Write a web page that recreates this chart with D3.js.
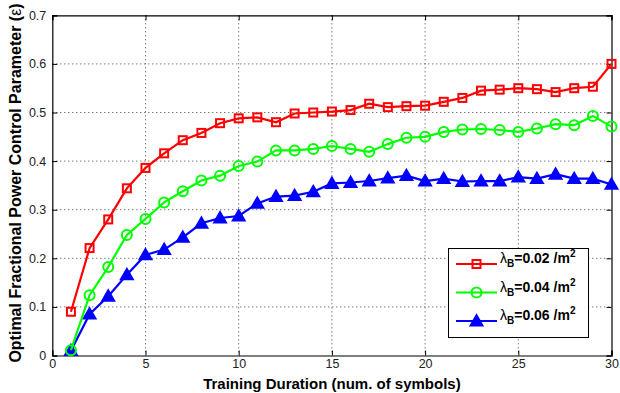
<!DOCTYPE html>
<html><head><meta charset="utf-8">
<script src="https://cdn.jsdelivr.net/npm/d3@7"></script>
<style>body{margin:0;background:#fff}svg{display:block;font-family:"Liberation Sans",Arial,sans-serif}</style>
</head><body><svg id="c" width="620" height="393"></svg>
<script>
const xs = d3.range(1, 31);
const red = [0.090,0.221,0.280,0.344,0.386,0.416,0.443,0.458,0.478,0.488,0.490,0.480,0.498,0.500,0.502,0.505,0.518,0.511,0.513,0.514,0.522,0.530,0.545,0.547,0.550,0.548,0.542,0.550,0.553,0.600];
const green = [0.011,0.124,0.182,0.248,0.281,0.315,0.338,0.360,0.370,0.390,0.399,0.422,0.422,0.425,0.431,0.425,0.419,0.435,0.448,0.450,0.460,0.465,0.466,0.464,0.460,0.467,0.476,0.474,0.493,0.471];
const blue = [0.010,0.085,0.122,0.166,0.207,0.218,0.243,0.272,0.283,0.287,0.313,0.327,0.329,0.337,0.354,0.356,0.359,0.365,0.370,0.359,0.364,0.358,0.359,0.359,0.367,0.364,0.373,0.364,0.364,0.352];
const xTicks = [0,5,10,15,20,25,30];
const yTicks = [0,0.1,0.2,0.3,0.4,0.5,0.6,0.7];
const legendLabels = ["0.02","0.04","0.06"];

const svg = d3.select("#c");
const L=52.3, R=611.5, T=15.3, B=355.5;
const x = d3.scaleLinear().domain([0,30]).range([L,R]);
const y = d3.scaleLinear().domain([0,0.7]).range([B,T]);

const g = svg.append("g");
g.selectAll(".gx").data(xTicks.slice(1,-1)).enter().append("line")
 .attr("x1",d=>x(d)).attr("x2",d=>x(d)).attr("y1",T).attr("y2",B)
 .attr("stroke","#444").attr("stroke-width",1).attr("stroke-dasharray","1,3");
g.selectAll(".gy").data(yTicks.slice(1,-1)).enter().append("line")
 .attr("y1",d=>y(d)).attr("y2",d=>y(d)).attr("x1",L).attr("x2",R)
 .attr("stroke","#444").attr("stroke-width",1).attr("stroke-dasharray","1,3");

const ax = d3.axisBottom(x).tickValues(xTicks).tickSize(-5).tickPadding(4).tickFormat(d3.format("d"));
const ay = d3.axisLeft(y).tickValues(yTicks).tickSize(-5).tickPadding(6).tickFormat(d=>d===0?"0":d3.format(".1f")(d));
const gx = svg.append("g").attr("transform",`translate(0,${B})`).call(ax);
const gy = svg.append("g").attr("transform",`translate(${L},0)`).call(ay);
svg.append("g").attr("transform",`translate(0,${T})`).call(d3.axisTop(x).tickValues(xTicks).tickSize(-5).tickFormat(""));
svg.append("g").attr("transform",`translate(${R},0)`).call(d3.axisRight(y).tickValues(yTicks).tickSize(-5).tickFormat(""));
svg.selectAll(".domain").attr("stroke","#000").attr("stroke-width",1.2);
svg.selectAll(".tick line").attr("stroke","#000");
svg.selectAll(".tick text").attr("font-size",12.5).attr("fill","#222").attr("font-family","Liberation Sans, Arial, sans-serif");
gx.selectAll(".tick text").attr("dy","0.71em");

svg.append("text").attr("x",(L+R)/2).attr("y",389).attr("text-anchor","middle")
 .attr("font-size",15).attr("font-weight","bold").text("Training Duration (num. of symbols)");
const yl = svg.append("text").attr("transform",`translate(21,${183}) rotate(-90)`).attr("text-anchor","middle")
 .attr("font-size",16).attr("font-weight","bold");
yl.append("tspan").text("Optimal Fractional Power Control Parameter (");
yl.append("tspan").attr("font-weight","normal").text("ε");
yl.append("tspan").text(")");

const series = [
 {vals:red, color:"#ff0000", marker:"square"},
 {vals:green, color:"#00ff00", marker:"circle"},
 {vals:blue, color:"#0000ff", marker:"triangle"}
];
const line = d3.line().x((d,i)=>x(xs[i])).y(d=>y(d));
function drawMarker(sel, type, color){
  if(type==="square") sel.append("rect").attr("x",-4).attr("y",-4).attr("width",8).attr("height",8)
     .attr("fill","none").attr("stroke",color).attr("stroke-width",2);
  else if(type==="circle") sel.append("circle").attr("r",5).attr("fill","none").attr("stroke",color).attr("stroke-width",2);
  else sel.append("path").attr("d",d3.symbol(d3.symbolTriangle,70)()).attr("transform","translate(0,1)")
     .attr("fill",color).attr("stroke",color).attr("stroke-width",1.5);
}
series.slice().reverse().forEach(s=>{
  svg.append("path").datum(s.vals).attr("d",line).attr("fill","none").attr("stroke",s.color).attr("stroke-width",2.2);
  s.vals.forEach((v,i)=>{
    const m = svg.append("g").attr("transform",`translate(${x(xs[i])},${y(v)})`);
    drawMarker(m, s.marker, s.color);
  });
});

const lg = svg.append("g");
lg.append("rect").attr("x",448.5).attr("y",248.5).attr("width",140).attr("height",89)
 .attr("fill","#fff").attr("stroke","#000").attr("stroke-width",1);
series.forEach((s,i)=>{
  const yy = 264 + i*28.5;
  lg.append("line").attr("x1",456).attr("x2",497).attr("y1",yy).attr("y2",yy).attr("stroke",s.color).attr("stroke-width",2.2);
  const m = lg.append("g").attr("transform",`translate(476.5,${yy})`);
  drawMarker(m, s.marker, s.color);
  const t = lg.append("text").attr("x",500).attr("y",yy-1).attr("font-size",14).attr("font-weight","bold");
  t.append("tspan").attr("font-weight","normal").text("λ");
  t.append("tspan").attr("font-size",10).attr("dy",4).text("B");
  t.append("tspan").attr("dy",-4).text("=" + legendLabels[i] + " /m");
  t.append("tspan").attr("font-size",10).attr("dy",-6).text("2");
});
</script></body></html>
